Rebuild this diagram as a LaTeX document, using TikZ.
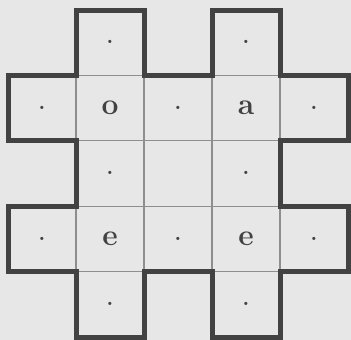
\documentclass[tikz,border=0pt]{standalone}
\usepackage{xcolor}
\usepackage{tikz}
\usetikzlibrary{
  positioning,
  calc
}
\definecolor{paper}{HTML}{E7E7E7}
\definecolor{ink}{HTML}{424242}
\definecolor{rule}{HTML}{8E8E8E}
\newcommand{\celldot}{{\fontsize{11}{12}\selectfont\textbullet}}
\tikzset{
  cell/.style={rectangle,draw=rule,line width=1.1pt,inner sep=0pt,outer sep=0pt,minimum width=68pt,minimum height=65.4pt,text=ink,font=\fontsize{30}{32}\selectfont\bfseries},
  outline/.style={draw=ink,line width=5pt,line join=miter}
}

\begin{document}
\begin{tikzpicture}[x=1pt,y=-1pt]
    \fill[paper] (0,0) rectangle (351,340);
    \useasboundingbox (0,0) rectangle (351,340);
    \foreach \r/\c/\t in {0/1/\celldot,0/3/\celldot,
                          1/0/\celldot,1/1/o,1/2/\celldot,1/3/a,1/4/\celldot,
                          2/1/\celldot,2/2/{},2/3/\celldot,
                          3/0/\celldot,3/1/e,3/2/\celldot,3/3/e,3/4/\celldot,
                          4/1/\celldot,4/3/\celldot}
        \node[cell] (c\r\c) at ({8+68*(\c+0.5)},{10+65.4*(\r+0.5)}) {\t};

    % thick border round the cross
    \draw[outline] (c01.north west) -- (c01.north east) -- (c12.north west) -- (c12.north east)
        -- (c03.north west) -- (c03.north east) -- (c13.north east) -- (c14.north east)
        -- (c14.south east) -- (c14.south west) -- (c34.north west) -- (c34.north east)
        -- (c34.south east) -- (c34.south west) -- (c43.south east) -- (c43.south west)
        -- (c43.north west) -- (c41.north east) -- (c41.south east) -- (c41.south west)
        -- (c41.north west) -- (c30.south west) -- (c30.north west) -- (c30.north east)
        -- (c21.north west) -- (c10.south west) -- (c10.north west) -- (c10.north east)
        -- cycle;
\end{tikzpicture}
\end{document}
